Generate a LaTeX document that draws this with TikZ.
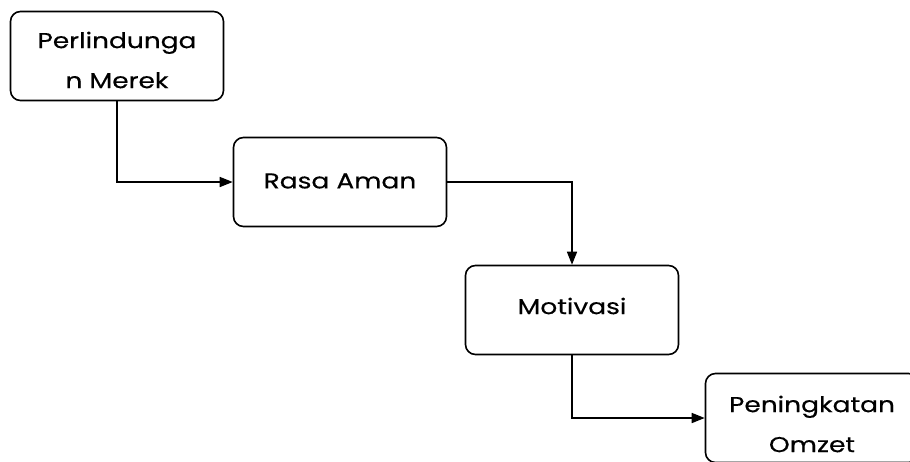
\documentclass[tikz,border=0pt]{standalone}
\usepackage{fontspec}
\setmainfont[FakeStretch=1.23,FakeBold=0.4]{Poppins}
\usetikzlibrary{arrows.meta}
\begin{document}
\begin{tikzpicture}[x=1pt,y=-1pt,
  box/.style={draw, rounded corners=10pt, line width=1.6pt,
    minimum width=213pt, minimum height=89pt, inner sep=0pt},
  caption/.style={align=center, inner sep=0pt,
    font=\fontsize{21.5}{40}\selectfont},
  link/.style={line width=1.6pt, -{Triangle[length=13pt,width=10pt]}}]
\useasboundingbox (0,0) rectangle (910,461);
% rounded boxes
\node[box] (a) at (117,56) {};
\node[box] (b) at (340,182) {};
\node[box] (c) at (572,310) {};
\node[box] (d) at (812,418) {};
% their texts
\node[caption] (at) at ([yshift=-4pt]a.center) {Perlindunga\\n Merek};
\node[caption] (bt) at ([yshift=1pt]b.center) {Rasa Aman};
\node[caption] (ct) at ([yshift=4pt]c.center) {Motivasi};
\node[caption] (dt) at ([yshift=-6pt]d.center) {Peningkatan\\Omzet};
% connectors
\draw[link] (a.south) |- (b.west);
\draw[link] (b.east) -| (c.north);
\draw[link] (c.south) |- (d.west);
\end{tikzpicture}
\end{document}
